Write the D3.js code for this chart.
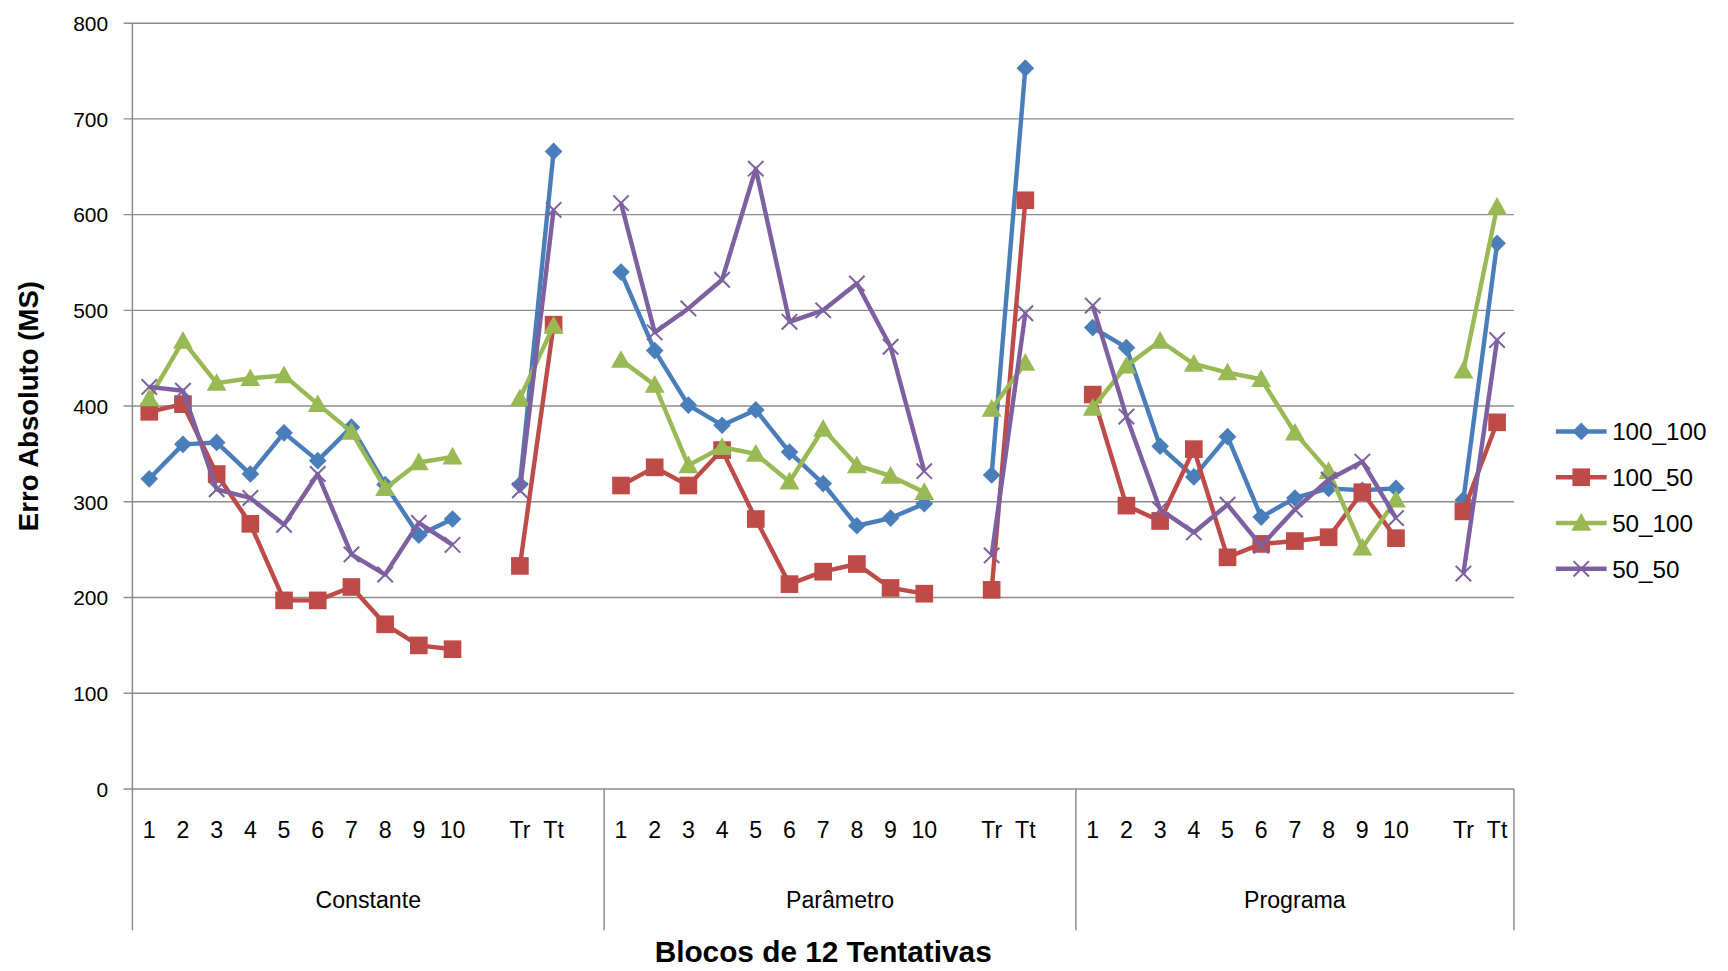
<!DOCTYPE html>
<html lang="en">
<head>
  <script src="https://d3js.org/d3.v7.min.js"></script>
  <title>Erro Absoluto</title>
  <style>body{margin:0;background:#fff;font-family:"Liberation Sans",Arial,sans-serif}</style>
</head>
<body>
<svg id="chart" width="1728" height="971"></svg>
<script>
  // slot labels for each group (blank slot between 10 and Tr)
  var groups = ["Constante", "Parâmetro", "Programa"];
  var blocks = ["1","2","3","4","5","6","7","8","9","10","","Tr","Tt"];
  var slotsPerGroup = [14, 14, 13];
  var yTicks = [0,100,200,300,400,500,600,700,800];

  // values per group: 10 blocks then Tr, Tt
  var s100_100 = [
    [324,360,362,329,372,343,378,318,265,282, 318,666],
    [540,458,401,380,396,352,319,275,283,298, 328,753],
    [482,461,358,326,368,284,304,314,312,314, 302,570]];
  var s100_50 = [
    [394,402,329,277,197,197,211,172,150,146, 233,485],
    [317,336,317,354,282,214,227,235,210,204, 208,615],
    [412,296,280,355,242,256,259,263,310,262, 290,383]];
  var s50_100 = [
    [408,468,424,429,432,402,373,314,341,347, 408,484],
    [448,422,338,357,350,321,376,338,327,310, 397,445],
    [398,442,468,444,435,428,372,332,252,302, 437,608]];
  var s50_50 = [
    [420,416,313,304,276,329,245,224,278,255, 312,605],
    [612,477,502,532,648,488,500,528,462,332, 244,497],
    [505,389,292,268,297,254,292,323,342,283, 225,469]];

  var series = [
    {name:"100_100", data:s100_100, color:"#4a7ebb", shape:"diamond"},
    {name:"100_50", data:s100_50, color:"#be4b48", shape:"square"},
    {name:"50_100", data:s50_100, color:"#98b954", shape:"triangle"},
    {name:"50_50", data:s50_50, color:"#7d60a0", shape:"x"}];

  // layout laid out on a ~1566-wide canvas, scaled to the page
  var svg = d3.select("#chart").append("g").attr("transform", "scale(" + (1728 / 1566) + ")");
  var pLeft = 120, pRight = 1372, pTop = 21, pBottom = 715;
  var totalSlots = d3.sum(slotsPerGroup);
  var x = d3.scaleLinear().domain([0, totalSlots]).range([pLeft, pRight]);
  var y = d3.scaleLinear().domain([0, 800]).range([pBottom, pTop]);
  var offsets = [0, 14, 28];

  // grid
  svg.append("g").selectAll("line").data(yTicks).join("line")
    .attr("x1", pLeft - 8).attr("x2", pRight)
    .attr("y1", d => y(d)).attr("y2", d => y(d))
    .attr("stroke", "#8c8c8c").attr("stroke-width", 1.3);
  svg.append("line").attr("x1", pLeft).attr("x2", pLeft).attr("y1", pTop).attr("y2", pBottom).attr("stroke", "#888").attr("stroke-width", 1.3);
  svg.append("g").selectAll("text").data(yTicks).join("text")
    .attr("x", pLeft - 22).attr("y", d => y(d) + 7).attr("text-anchor", "end")
    .attr("font-size", 19).text(d => d);

  // category separators
  var seps = [0, 14, 28, 41];
  svg.append("g").selectAll("line").data(seps).join("line")
    .attr("x1", d => x(d)).attr("x2", d => x(d)).attr("y1", pBottom).attr("y2", 843)
    .attr("stroke", "#888").attr("stroke-width", 1.3);
  groups.forEach(function (g, gi) {
    svg.append("g").selectAll("text").data(blocks).join("text")
      .attr("x", (d, i) => x(offsets[gi] + i + 0.5)).attr("y", 759)
      .attr("text-anchor", "middle").attr("font-size", 21).text(d => d);
    svg.append("text").attr("x", (x(seps[gi]) + x(seps[gi + 1])) / 2).attr("y", 823)
      .attr("text-anchor", "middle").attr("font-size", 21).text(g);
  });

  svg.append("text").attr("x", 746).attr("y", 872).attr("text-anchor", "middle")
    .attr("font-size", 27).attr("font-weight", "bold").text("Blocos de 12 Tentativas");
  svg.append("text").attr("transform", "translate(34,368) rotate(-90)").attr("text-anchor", "middle")
    .attr("font-size", 25).attr("font-weight", "bold").text("Erro Absoluto (MS)");

  function marker(g, shape, color, cx, cy) {
    if (shape === "diamond") g.append("path").attr("d", `M${cx},${cy-8}L${cx+8},${cy}L${cx},${cy+8}L${cx-8},${cy}Z`).attr("fill", color);
    else if (shape === "square") g.append("rect").attr("x", cx-8).attr("y", cy-8).attr("width", 16).attr("height", 16).attr("fill", color);
    else if (shape === "triangle") g.append("path").attr("d", `M${cx},${cy-9}L${cx+9},${cy+7}L${cx-9},${cy+7}Z`).attr("fill", color);
    else g.append("path").attr("d", `M${cx-7},${cy-7}L${cx+7},${cy+7}M${cx-7},${cy+7}L${cx+7},${cy-7}`).attr("stroke", color).attr("stroke-width", 1.8);
  }

  var line = d3.line().x(d => x(d[0])).y(d => y(d[1]));
  series.forEach(function (s) {
    var g = svg.append("g");
    s.data.forEach(function (vals, gi) {
      var pts = vals.map(function (v, i) {
        var slot = i < 10 ? i : i + 1;
        return [offsets[gi] + slot + 0.5, v];
      });
      [pts.slice(0, 10), pts.slice(10)].forEach(function (seg) {
        g.append("path").attr("d", line(seg)).attr("fill", "none")
          .attr("stroke", s.color).attr("stroke-width", 4).attr("stroke-linejoin", "round");
      });
      pts.forEach(p => marker(g, s.shape, s.color, x(p[0]), y(p[1])));
    });
  });

  // legend
  series.forEach(function (s, i) {
    var ly = 391 + i * 41.5;
    var g = svg.append("g");
    g.append("line").attr("x1", 1410).attr("x2", 1456).attr("y1", ly).attr("y2", ly)
      .attr("stroke", s.color).attr("stroke-width", 4);
    marker(g, s.shape, s.color, 1433, ly);
    g.append("text").attr("x", 1461).attr("y", ly + 8).attr("font-size", 22).text(s.name);
  });
</script>
</body>
</html>
